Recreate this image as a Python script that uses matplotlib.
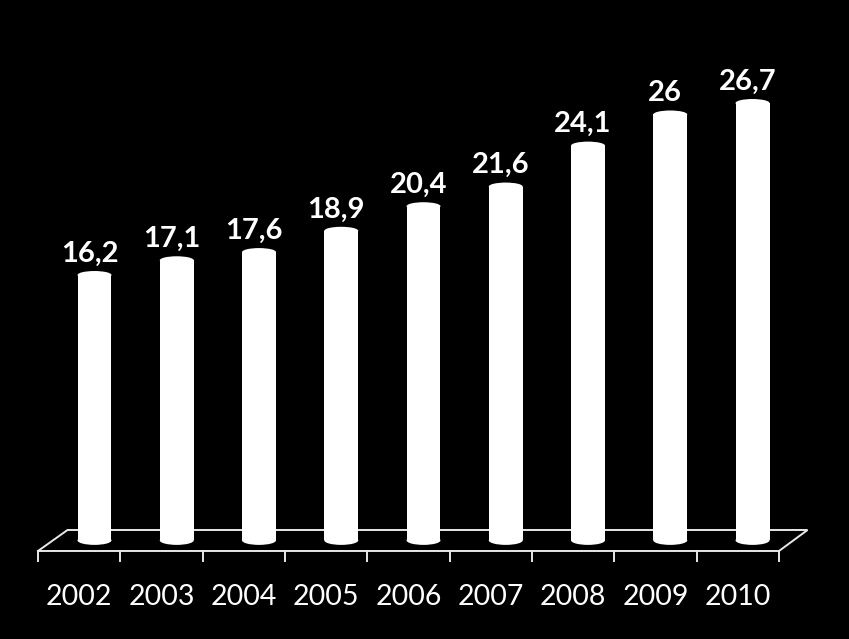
import matplotlib
matplotlib.use("Agg")
import matplotlib.pyplot as plt
from matplotlib.patches import Rectangle, Ellipse

years = ["2002", "2003", "2004", "2005", "2006", "2007", "2008", "2009", "2010"]
values = [16.2, 17.1, 17.6, 18.9, 20.4, 21.6, 24.1, 26.0, 26.7]
value_labels = ["16,2", "17,1", "17,6", "18,9", "20,4", "21,6", "24,1", "26", "26,7"]

plt.rcParams['font.family'] = ['Lato', 'DejaVu Sans']

fig = plt.figure(figsize=(8.49, 6.39), dpi=100, facecolor="black")
ax = fig.add_axes([0, 0, 1, 1])
ax.set_facecolor("black")
ax.set_xlim(-1.149, 9.173)
ax.set_ylim(-6.02, 32.99)
ax.axis("off")

# floor (3D base in perspective)
fx0, fx1, bx0, bx1 = -0.687, 8.322, -0.328, 8.669
fy, by = -0.647, 0.635
lc = "#e8e8e8"
ax.plot([fx0, fx1, bx1, bx0, fx0], [fy, fy, by, by, fy], color=lc, lw=1.4, zorder=1,
        solid_joinstyle="miter")
n = len(years)
for k in range(n + 1):
    tx = fx0 + k * (fx1 - fx0) / n
    ax.plot([tx, tx], [fy, -1.258], color=lc, lw=1.4, zorder=1)

w = 0.413
eh_top = 0.49
eh_bot = 0.55
for i, (v, lab, yr) in enumerate(zip(values, value_labels, years)):
    ax.add_patch(Rectangle((i - w / 2, 0), w, v, facecolor="white", edgecolor="none", zorder=3))
    ax.add_patch(Ellipse((i, v), w, eh_top, facecolor="white", edgecolor="none", zorder=3))
    ax.add_patch(Ellipse((i, 0), w, eh_bot, facecolor="white", edgecolor="none", zorder=3))
    ax.text(i - 0.06, v + 0.82, lab, color="white", fontsize=21, fontweight="bold",
            ha="center", va="baseline", zorder=4)
    ax.text(fx0 + (i + 0.5) * (fx1 - fx0) / n, -3.944, yr, color="white",
            fontsize=20.5, ha="center", va="baseline", zorder=4)

fig.savefig("out.png", dpi=100, facecolor="black")
